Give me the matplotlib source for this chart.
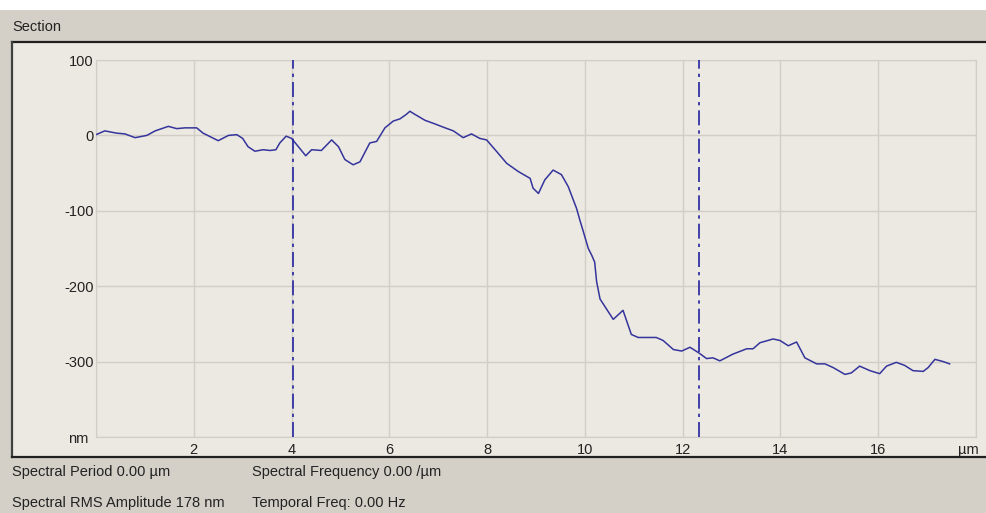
import matplotlib.pyplot as plt
from matplotlib.patches import Rectangle
from matplotlib.lines import Line2D

# section profile (um, nm)
x_um = [0, 0.18, 0.42, 0.59, 0.8, 1.04, 1.21, 1.48, 1.65, 1.82, 2.06, 2.19, 2.5, 2.71,
        2.88, 3.0, 3.11, 3.25, 3.42, 3.56, 3.68, 3.76, 3.89, 4.0, 4.14, 4.29, 4.41, 4.61,
        4.82, 4.96, 5.09, 5.26, 5.40, 5.60, 5.74, 5.91, 6.08, 6.22, 6.35, 6.42, 6.52, 6.73,
        6.90, 7.10, 7.31, 7.51, 7.68, 7.85, 7.99, 8.19, 8.40, 8.64, 8.88, 8.94, 9.05, 9.18,
        9.35, 9.52, 9.66, 9.83, 9.90, 9.97, 10.07, 10.14, 10.20, 10.24, 10.31, 10.44, 10.58,
        10.78, 10.95, 11.09, 11.46, 11.60, 11.81, 11.98, 12.15, 12.32, 12.49, 12.62, 12.76,
        13.03, 13.31, 13.44, 13.58, 13.85, 13.99, 14.16, 14.33, 14.50, 14.74, 14.91, 15.08,
        15.32, 15.45, 15.62, 15.83, 16.03, 16.17, 16.37, 16.54, 16.71, 16.92, 17.02, 17.16,
        17.33, 17.46]
h_nm = [1, 6, 3, 2, -3, 0, 6, 12, 9, 10, 10, 3, -7, 0,
        1, -4, -15, -21, -19, -20, -19, -10, -1, -4, -15, -27, -19, -20,
        -6, -15, -32, -39, -35, -10, -8, 10, 19, 22, 28, 32, 28, 20,
        16, 11, 6, -3, 2, -4, -6, -21, -37, -48, -57, -70, -77, -59,
        -46, -52, -68, -97, -113, -128, -150, -159, -168, -194, -217, -230, -244,
        -232, -264, -268, -268, -272, -284, -286, -281, -288, -296, -295, -299,
        -290, -283, -283, -275, -270, -272, -279, -274, -295, -303, -303, -308,
        -317, -315, -306, -312, -316, -306, -301, -305, -312, -313, -308, -297,
        -300, -303]

cursors = [4.02, 12.33]
xticks = [2, 4, 6, 8, 10, 12, 14, 16]
yticks = [100, 0, -100, -200, -300]

W, H = 987, 513
font = 'Liberation Sans'
fs = 10.5

def fx(p):
    return p / W

def fy(p):
    return 1 - p / H

fig = plt.figure(figsize=(W / 100, H / 100), dpi=100, facecolor='#d4d0c8')

# window chrome (drawn beneath the axes)
fig.patches.append(Rectangle((0, fy(10)), 1, 1 - fy(10), transform=fig.transFigure,
                             facecolor='white', edgecolor='none', zorder=-2))
fig.patches.append(Rectangle((fx(12), fy(457)), 1, fy(42) - fy(457),
                             transform=fig.transFigure, facecolor='#ece9e2',
                             edgecolor='none', zorder=-2))
fig.lines.append(Line2D([fx(12), 1], [fy(42), fy(42)], transform=fig.transFigure,
                        color='#202020', lw=1.6, zorder=-1))
fig.lines.append(Line2D([fx(12), fx(12)], [fy(42), fy(457)], transform=fig.transFigure,
                        color='#404040', lw=1.6, zorder=-1))
fig.lines.append(Line2D([fx(12), 1], [fy(457), fy(457)], transform=fig.transFigure,
                        color='#202020', lw=1.6, zorder=-1))

ax = fig.add_axes([fx(96), fy(437), fx(976 - 96), (437 - 60) / H])
ax.set_zorder(1)
ax.set_facecolor('#ece9e2')
ax.plot(x_um, h_nm, color='#34349c', lw=1.1, zorder=3)
for c in cursors:
    ax.axvline(c, color='#2424a0', lw=1.2, dashes=(9, 3, 2, 3), zorder=4)

ax.set_xlim(0, 18)
ax.set_ylim(-400, 100)
ax.set_xticks(range(0, 19, 2))
ax.set_xticklabels([''] + [str(t) for t in xticks] + [''])
ax.set_yticks([100, 0, -100, -200, -300, -400])
ax.set_yticklabels([str(t) for t in yticks] + [''])
ax.tick_params(length=0, labelsize=fs, colors='#222222', pad=1.5)
ax.tick_params(axis='x', pad=4)
for lab in ax.get_xticklabels() + ax.get_yticklabels():
    lab.set_fontfamily(font)
ax.grid(True, color='#d2cec6', lw=1.0)
ax.set_axisbelow(True)
for s in ax.spines.values():
    s.set_color('#d2cec6')

txt = dict(fontsize=fs, family=font, color='#222222', va='center')
fig.text(fx(12), fy(27), 'Section', **txt)
fig.text(fx(88), fy(439), 'nm', ha='right', **txt)
fig.text(fx(968), fy(450), 'µm', ha='center', **txt)
fig.text(fx(12), fy(472), 'Spectral Period 0.00 µm', **txt)
fig.text(fx(12), fy(503), 'Spectral RMS Amplitude 178 nm', **txt)
fig.text(fx(252), fy(472), 'Spectral Frequency 0.00 /µm', **txt)
fig.text(fx(252), fy(503), 'Temporal Freq: 0.00 Hz', **txt)

fig.savefig('out.png', dpi=100)
